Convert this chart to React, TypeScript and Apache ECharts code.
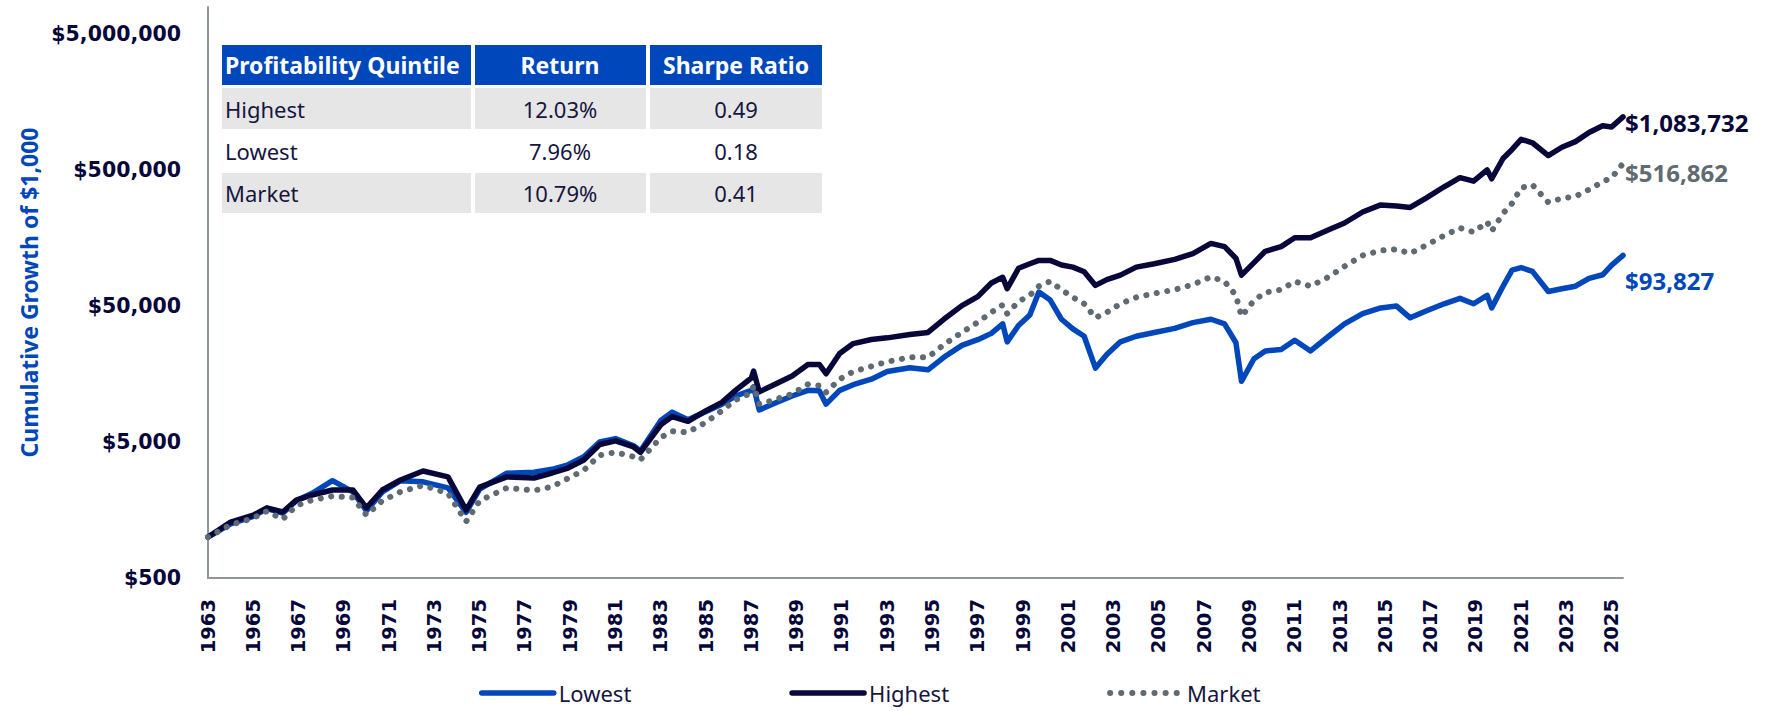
import React, { useEffect, useRef } from 'react';
import * as echarts from 'echarts';

// ---- data ----
const dates = [
  1963.0, 1964.0, 1965.0, 1965.6, 1966.3, 1966.9, 1967.6, 1968.5, 1969.4, 1970.0,
  1970.7, 1971.5, 1972.5, 1973.6, 1974.4, 1975.0, 1976.2, 1977.4, 1978.2, 1978.9,
  1979.6, 1980.3, 1981.0, 1981.8, 1982.1, 1983.0, 1983.5, 1984.2, 1985.0, 1985.7,
  1986.3, 1987.0, 1987.1, 1987.35, 1988.0, 1988.8, 1989.5, 1990.0, 1990.3, 1990.9,
  1991.5, 1992.3, 1993.0, 1994.0, 1994.8, 1995.5, 1996.3, 1997.0, 1997.6, 1998.1,
  1998.3, 1998.8, 1999.3, 1999.7, 2000.2, 2000.7, 2001.2, 2001.7, 2002.2, 2002.7,
  2003.3, 2004.0, 2004.8, 2005.7, 2006.5, 2007.3, 2007.9, 2008.4, 2008.65, 2009.2,
  2009.7, 2010.4, 2011.0, 2011.7, 2012.5, 2013.2, 2014.0, 2014.8, 2015.5, 2016.1,
  2016.8, 2017.6, 2018.3, 2018.9, 2019.5, 2019.7, 2020.2, 2020.6, 2021.0, 2021.5,
  2022.2, 2022.8, 2023.4, 2024.0, 2024.6, 2025.0, 2025.5,
];

const highest = [
  1000, 1290, 1450, 1640, 1530, 1870, 2040, 2220, 2220, 1640,
  2220, 2630, 3060, 2770, 1580, 2330, 2770, 2720, 2960, 3220,
  3690, 4800, 5100, 4600, 4200, 6700, 7700, 7100, 8500, 9800,
  12000, 14800, 16600, 11700, 13200, 15300, 18600, 18600, 15900, 22400,
  26500, 28400, 29200, 30900, 32000, 40000, 50400, 58700, 74000, 81400,
  67200, 94800, 102400, 108400, 108400, 100400, 96700, 89500, 71000, 78300,
  84500, 96700, 102400, 110400, 121600, 144600, 137000, 112500, 84500, 104400,
  126500, 137000, 159200, 159200, 182000, 204200, 246000, 277500, 272000, 266000,
  311400, 377300, 440000, 415000, 502000, 432000, 609000, 710000, 842000, 795000,
  640000, 737000, 811000, 945000, 1060000, 1040000, 1232000,
];

const lowest = [
  1000, 1250, 1420, 1620, 1500, 1850, 2100, 2600, 2150, 1560,
  2150, 2600, 2550, 2300, 1520, 2250, 2950, 3000, 3150, 3400,
  3900, 5000, 5300, 4700, 4300, 7200, 8300, 7300, 8400, 9500,
  10900, 12000, 12700, 8600, 9600, 10900, 12000, 11900, 9500, 12000,
  13200, 14500, 16500, 17600, 17000, 21000, 25700, 28300, 31500, 37000,
  27300, 36000, 43000, 63400, 55400, 40000, 34000, 30000, 17500, 22000,
  27300, 30000, 32000, 34300, 37800, 40000, 37000, 27000, 14000, 20500,
  23400, 24000, 28000, 23400, 30000, 37000, 44000, 48500, 50000, 41000,
  46000, 52000, 57000, 52000, 60000, 48500, 70000, 92000, 96000, 90000,
  64000, 67000, 70000, 80000, 85000, 100000, 118000,
];

const market = [
  1000, 1230, 1380, 1550, 1350, 1700, 1870, 2000, 1950, 1450,
  1850, 2150, 2400, 2100, 1300, 1850, 2300, 2200, 2350, 2700,
  3100, 4000, 4200, 3900, 3700, 5400, 6000, 5900, 7000, 8500,
  10200, 11500, 13000, 9500, 10200, 11300, 13300, 13000, 11600, 14500,
  16500, 18000, 19500, 21000, 21000, 26000, 32000, 38000, 45000, 51000,
  44000, 54000, 60000, 70000, 76000, 66000, 58000, 52000, 41000, 45000,
  52000, 58000, 62000, 66000, 72000, 82000, 76000, 60000, 42000, 55000,
  63000, 66000, 76000, 70000, 82000, 98000, 118000, 128000, 131000, 122000,
  140000, 165000, 188000, 175000, 208000, 178000, 240000, 285000, 370000, 390000,
  290000, 310000, 320000, 360000, 410000, 440000, 560000,
];

const yTickLabels = ['$500', '$5,000', '$50,000', '$500,000', '$5,000,000'];
const endLabels = { Lowest: '$93,827', Highest: '$1,083,732', Market: '$516,862' };
const tableHeader = ['Profitability Quintile', 'Return', 'Sharpe Ratio'];
const tableRows = [
  ['Highest', '12.03%', '0.49'],
  ['Lowest', '7.96%', '0.18'],
  ['Market', '10.79%', '0.41'],
];

// ---- styles ----
const BASE = 500;
const BLUE = '#0047BB';
const NAVY = '#07073A';
const GRAY = '#5F6A72';
const TEXT = '#16163F';
const AXIS = '#8F979D';
const ROWGRAY = '#E6E6E6';
const SANS = '"Noto Sans", "Open Sans", sans-serif';
const TICKFONT = '"DejaVu Sans", Verdana, sans-serif';

function toPts(vals: number[]) {
  return dates.map((d, i) => [d, Math.log10(vals[i] / BASE)]);
}

function buildTable() {
  const cols = [
    { x: 222, w: 249, align: 'left', tx: 225 },
    { x: 475, w: 171, align: 'center', tx: 560 },
    { x: 650, w: 172, align: 'center', tx: 736 },
  ];
  const rows = [
    { y: 45, h: 40, fill: BLUE },
    { y: 88, h: 41, fill: ROWGRAY },
    { y: 131, h: 40, fill: '#FFFFFF' },
    { y: 173, h: 40, fill: ROWGRAY },
  ];
  const els: any[] = [];
  rows.forEach((r, ri) => {
    cols.forEach((c, ci) => {
      els.push({
        type: 'rect',
        shape: { x: c.x, y: r.y, width: c.w, height: r.h },
        style: { fill: r.fill },
        silent: true,
      });
      const text = ri === 0 ? tableHeader[ci] : tableRows[ri - 1][ci];
      els.push({
        type: 'text',
        x: c.tx,
        y: r.y + r.h / 2,
        silent: true,
        style: {
          text,
          fill: ri === 0 ? '#FFFFFF' : TEXT,
          font: ri === 0 ? `bold 23px ${SANS}` : `22px ${SANS}`,
          textAlign: c.align,
          textVerticalAlign: 'middle',
        },
      });
    });
  });
  return els;
}

export default function App() {
  const ref = useRef<HTMLDivElement>(null);

  useEffect(() => {
    if (!ref.current) return;
    const chart = echarts.init(ref.current, null, { renderer: 'svg' });

    const endLabel = (name: string, color: string, dy: number) => ({
      show: true,
      formatter: endLabels[name as keyof typeof endLabels],
      color,
      fontFamily: SANS,
      fontWeight: 'bold',
      fontSize: 24,
      distance: 2,
      offset: [0, dy],
    });

    chart.setOption({
      animation: false,
      backgroundColor: '#FFFFFF',
      grid: { left: 208, right: 152, top: 7, bottom: 133, containLabel: false },
      xAxis: {
        type: 'value',
        min: 1963,
        max: 2025.5,
        interval: 2,
        axisLine: { show: true, lineStyle: { color: AXIS, width: 2 } },
        axisTick: { show: false },
        splitLine: { show: false },
        axisLabel: {
          rotate: 90,
          margin: 21,
          color: NAVY,
          fontFamily: TICKFONT,
          fontWeight: 'bold',
          fontSize: 19.5,
          formatter: (v: number) => (Math.abs(v - Math.round(v)) < 0.01 ? String(Math.round(v)) : ''),
        },
      },
      yAxis: {
        type: 'value',
        min: 0,
        max: 4.2,
        interval: 1,
        name: 'Cumulative Growth of $1,000',
        nameLocation: 'middle',
        nameRotate: 90,
        nameGap: 164,
        nameTextStyle: { color: BLUE, fontFamily: SANS, fontWeight: 'bold', fontSize: 23 },
        axisLine: { show: true, lineStyle: { color: AXIS, width: 2 } },
        axisTick: { show: false },
        splitLine: { show: false },
        axisLabel: {
          margin: 27,
          color: NAVY,
          fontFamily: TICKFONT,
          fontWeight: 'bold',
          fontSize: 20.5,
          formatter: (v: number) => {
            const k = Math.round(v);
            if (Math.abs(v - k) > 0.05) return '';
            return yTickLabels[k] ?? '';
          },
        },
      },
      legend: {
        show: true,
        left: 474,
        top: 675,
        orient: 'horizontal',
        itemWidth: 72,
        itemHeight: 14,
        itemGap: 158,
        itemStyle: { opacity: 0 },
        textStyle: { color: TEXT, fontFamily: SANS, fontSize: 22, lineHeight: 26 },
        data: [
          { name: 'Lowest', lineStyle: { color: BLUE, width: 5.5, cap: 'round' } },
          { name: 'Highest', lineStyle: { color: NAVY, width: 5.5, cap: 'round' } },
          { name: 'Market', lineStyle: { color: GRAY, width: 6, type: [0.1, 11], cap: 'round' } },
        ],
      },
      series: [
        {
          name: 'Lowest',
          type: 'line',
          data: toPts(lowest),
          symbol: 'none',
          lineStyle: { color: BLUE, width: 5.5, join: 'round', cap: 'round' },
          itemStyle: { color: BLUE },
          endLabel: endLabel('Lowest', BLUE, 25),
        },
        {
          name: 'Highest',
          type: 'line',
          data: toPts(highest),
          symbol: 'none',
          lineStyle: { color: NAVY, width: 5.5, join: 'round', cap: 'round' },
          itemStyle: { color: NAVY },
          endLabel: endLabel('Highest', NAVY, 6),
        },
        {
          name: 'Market',
          type: 'line',
          data: toPts(market),
          symbol: 'none',
          lineStyle: { color: GRAY, width: 6, type: [0.1, 10.5], cap: 'round', join: 'round' },
          itemStyle: { color: GRAY },
          endLabel: endLabel('Market', GRAY, 9),
        },
      ],
      graphic: buildTable(),
    });

    return () => chart.dispose();
  }, []);

  return (
    <div
      ref={ref}
      style={{ position: 'fixed', left: 0, top: 0, width: 1775, height: 711, background: '#FFFFFF' }}
    />
  );
}
